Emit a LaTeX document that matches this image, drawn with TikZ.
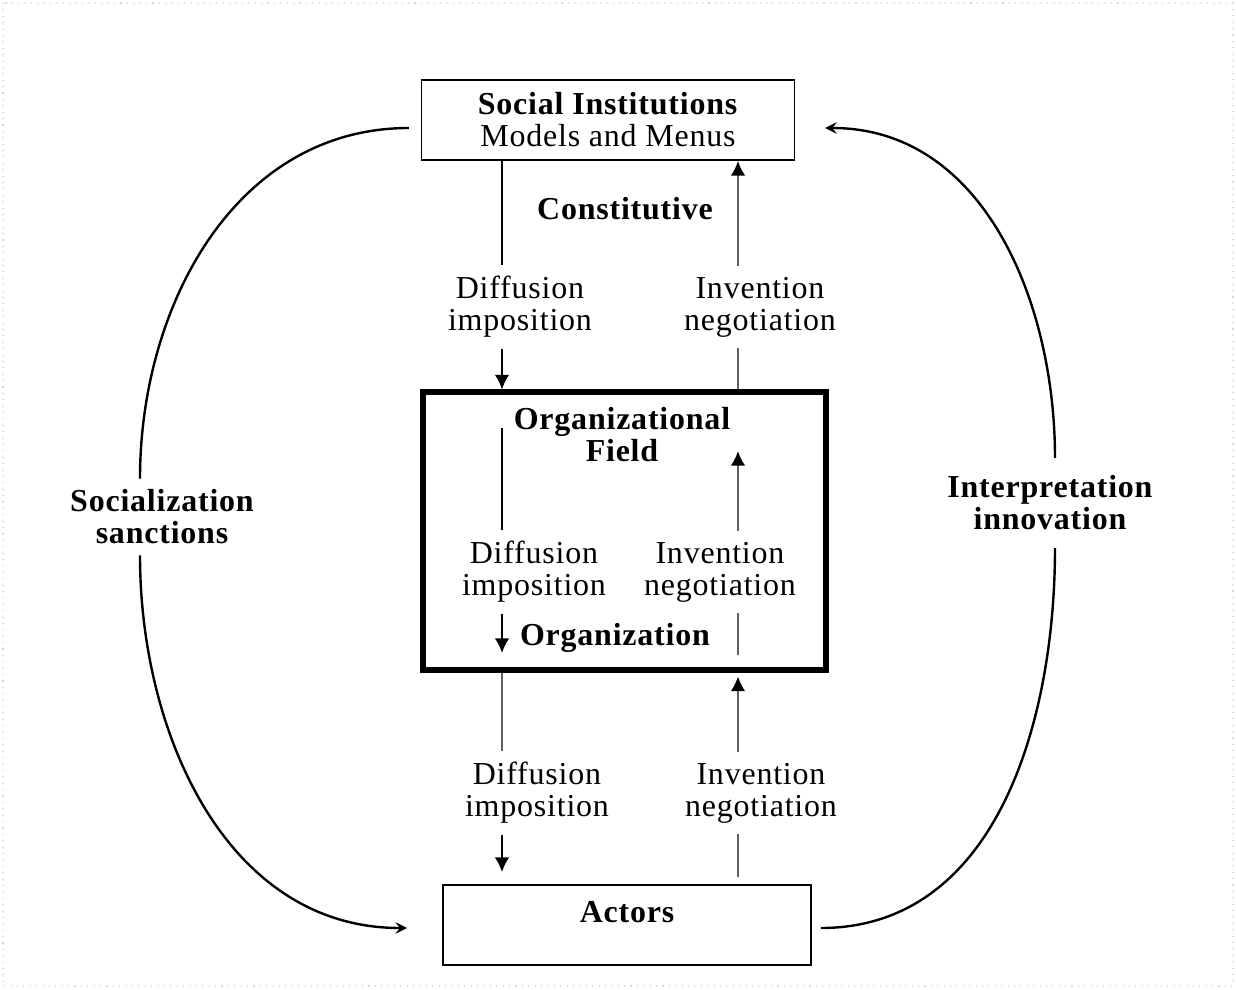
\documentclass[tikz,border=0pt]{standalone}
\usepackage{fontspec}
\setmainfont[LetterSpace=2.5]{Liberation Serif}
\usepackage{tikz}
\usetikzlibrary{shapes,arrows,arrows.meta,positioning,calc}
\usepackage{xcolor}
\definecolor{flowgray}{RGB}{95,95,95}
\definecolor{framegray}{RGB}{215,215,215}

\newcommand{\lblfont}{\fontsize{12}{12}\selectfont}

\tikzset{
    box/.style={draw, line width=0.6pt, align=center, font=\lblfont},
    lbl/.style={align=center, inner sep=4pt, font=\lblfont},
    boldlbl/.style={align=center, inner sep=4pt, font=\lblfont\bfseries},
    flow/.style={line width=0.75pt, black},
    flowg/.style={line width=0.75pt, flowgray},
    loop/.style={line width=0.9pt, black}
}

\begin{document}
\begin{tikzpicture}[x=0.0132cm, y=-0.0132cm, >={Latex[length=5.5pt,width=5.5pt,color=black]}]
    \useasboundingbox (0,0) rectangle (1236,989);
    \draw[framegray, dotted] (3,3) rectangle (1233,986);

    % Column positions of the vertical flows
    \coordinate (xl) at (502,0);
    \coordinate (xr) at (738,0);

    % Social institutions box
    \node[box, minimum width=4.92cm, minimum height=1.06cm] (si) at (608,120)
        {\textbf{Social Institutions}\\ Models and Menus};
    \node[boldlbl] (const) at (625,209) {Constitutive};

    % Organizational field box
    \node[draw, line width=2.2pt, minimum width=5.31cm, minimum height=3.66cm] (ofield) at (624.5,531) {};
    \node[boldlbl] (fieldtxt) at (622,435) {Organizational\\ Field};
    \node[boldlbl] (orgtxt) at (615,638) {Organization};

    % Actors box
    \node[box, minimum width=4.86cm, minimum height=1.06cm] (actors) at (627,925) {};
    \node[boldlbl] (actorstxt) at (627,912) {Actors};

    % Flow labels
    \node[lbl] (dif1) at (520,307) {Diffusion\\ imposition};
    \node[lbl] (inv1) at (760,307) {Invention\\ negotiation};
    \node[lbl] (dif2) at (534,572) {Diffusion\\ imposition};
    \node[lbl] (inv2) at (720,572) {Invention\\ negotiation};
    \node[lbl] (dif3) at (537,793) {Diffusion\\ imposition};
    \node[lbl] (inv3) at (761,793) {Invention\\ negotiation};

    % Outer loop labels
    \node[boldlbl] (soc) at (162,517) {Socialization\\ sanctions};
    \node[boldlbl, inner sep=6.5pt] (inn) at (1050,503) {Interpretation\\ innovation};

    % Institutions -> field
    \draw[flow] (si.south -| xl) -- (dif1.north -| xl);
    \draw[flow, ->] (dif1.south -| xl) -- (ofield.north -| xl);
    \draw[flowg] (ofield.north -| xr) -- (inv1.south -| xr);
    \draw[flowg, ->] (inv1.north -| xr) -- (si.south -| xr);

    % Inside the field
    \coordinate (fldtop) at (502,428);
    \coordinate (orgbot) at (502,653);
    \coordinate (fldarr) at (738,451);
    \coordinate (orgend) at (738,655);
    \draw[flow] (fldtop) -- (dif2.north -| xl);
    \draw[flow, ->] (dif2.south -| xl) -- (orgbot);
    \draw[flowg] (orgend) -- (inv2.south -| xr);
    \draw[flowg, ->] (inv2.north -| xr) -- (fldarr);

    % Field -> actors
    \draw[flowg] (ofield.south -| xl) -- (dif3.north -| xl);
    \draw[flow, ->, shorten >=4.5pt] (dif3.south -| xl) -- (actors.north -| xl);
    \draw[flowg, shorten <=2.5pt] (actors.north -| xr) -- (inv3.south -| xr);
    \draw[flowg, ->, shorten >=1.5pt] (inv3.north -| xr) -- (ofield.south -| xr);

    % Socialization loop
    \draw[loop] ($(si.west)+(-12,8)$) to[out=180, in=90] ($(soc.north)+(-22,0)$);
    \draw[loop, -stealth] ($(soc.south)+(-22,0)$) to[out=270, in=180] ($(actors.west)+(-35,3)$);

    % Interpretation loop
    \draw[loop] ($(actors.east)+(9,3)$) to[out=0, in=270] ($(inn.south)+(5,0)$);
    \draw[loop, -stealth] ($(inn.north)+(5,0)$) to[out=90, in=0] ($(si.east)+(30,8)$);
\end{tikzpicture}
\end{document}
